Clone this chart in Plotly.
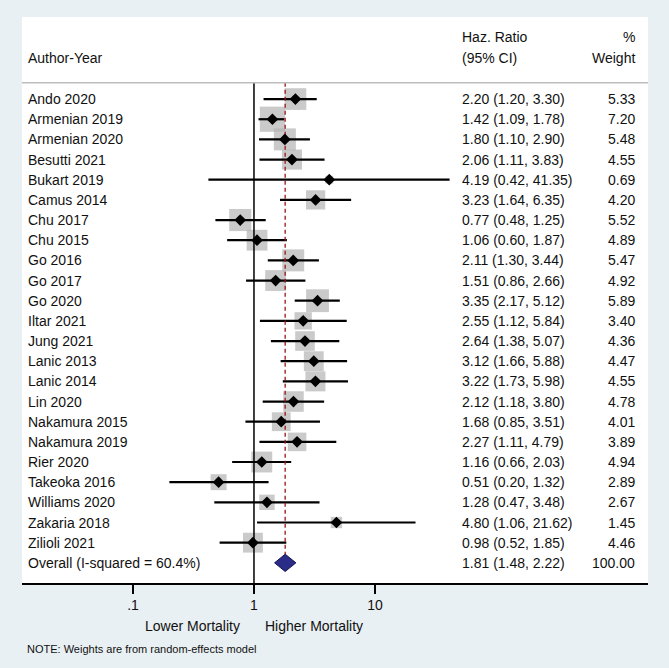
import plotly.graph_objects as go
import math

authors = ["Ando 2020", "Armenian 2019", "Armenian 2020", "Besutti 2021", "Bukart 2019",
           "Camus 2014", "Chu 2017", "Chu 2015", "Go 2016", "Go 2017", "Go 2020",
           "Iltar 2021", "Jung 2021", "Lanic 2013", "Lanic 2014", "Lin 2020",
           "Nakamura 2015", "Nakamura 2019", "Rier 2020", "Takeoka 2016",
           "Williams 2020", "Zakaria 2018", "Zilioli 2021"]
hr = [2.20, 1.42, 1.80, 2.06, 4.19, 3.23, 0.77, 1.06, 2.11, 1.51, 3.35, 2.55, 2.64,
      3.12, 3.22, 2.12, 1.68, 2.27, 1.16, 0.51, 1.28, 4.80, 0.98]
lo = [1.20, 1.09, 1.10, 1.11, 0.42, 1.64, 0.48, 0.60, 1.30, 0.86, 2.17, 1.12, 1.38,
      1.66, 1.73, 1.18, 0.85, 1.11, 0.66, 0.20, 0.47, 1.06, 0.52]
hi = [3.30, 1.78, 2.90, 3.83, 41.35, 6.35, 1.25, 1.87, 3.44, 2.66, 5.12, 5.84, 5.07,
      5.88, 5.98, 3.80, 3.51, 4.79, 2.03, 1.32, 3.48, 21.62, 1.85]
weight = [5.33, 7.20, 5.48, 4.55, 0.69, 4.20, 5.52, 4.89, 5.47, 4.92, 5.89, 3.40, 4.36,
          4.47, 4.55, 4.78, 4.01, 3.89, 4.94, 2.89, 2.67, 1.45, 4.46]

overall_label = "Overall (I-squared = 60.4%)"
overall_hr, overall_lo, overall_hi, overall_w = 1.81, 1.48, 2.22, 100.00

tick_vals = [0.1, 1, 10]
tick_text = [".1", "1", "10"]

FONT = "Liberation Sans, Arial, Helvetica, sans-serif"
TXT = "#111111"
n = len(authors)
rows = list(range(n))
orow = n  # overall row index

fig = go.Figure()

# weight boxes
fig.add_trace(go.Scatter(
    x=hr, y=rows, mode="markers",
    marker=dict(symbol="square", size=[9.4 * math.sqrt(w) for w in weight],
                color="#B3B3B3", line=dict(width=0)),
    hoverinfo="skip", showlegend=False))

# CI lines
cx, cy = [], []
for i in rows:
    cx += [lo[i], hi[i], None]
    cy += [i, i, None]
fig.add_trace(go.Scatter(x=cx, y=cy, mode="lines", line=dict(color="black", width=2.2),
                         hoverinfo="skip", showlegend=False))

# null line
fig.add_trace(go.Scatter(x=[1, 1], y=[-0.81, 24.1], mode="lines",
                         line=dict(color="black", width=1.5), hoverinfo="skip", showlegend=False))
# overall dashed line
fig.add_trace(go.Scatter(x=[overall_hr, overall_hr], y=[-0.81, orow - 0.42], mode="lines",
                         line=dict(color="#9A1515", width=1.3, dash="4px,3px"),
                         hoverinfo="skip", showlegend=False))

# point estimates
fig.add_trace(go.Scatter(x=hr, y=rows, mode="markers",
                         marker=dict(symbol="diamond", size=9, color="black"),
                         hoverinfo="skip", showlegend=False))

# overall diamond
fig.add_trace(go.Scatter(
    x=[overall_lo, overall_hr, overall_hi, overall_hr, overall_lo],
    y=[orow, orow - 0.43, orow, orow + 0.43, orow],
    mode="lines", fill="toself", fillcolor="#2B2B88",
    line=dict(color="#141450", width=1), hoverinfo="skip", showlegend=False))

ann = []
def add(text, x, y, xanchor, size=14, yref="y"):
    ann.append(dict(text=text, x=x, y=y, xref="paper", yref=yref, xanchor=xanchor,
                    yanchor="middle", showarrow=False,
                    font=dict(family=FONT, size=size, color=TXT)))

# headers
add("Author-Year", 0.006, -2.06, "left")
add("Haz. Ratio", 0.700, -3.07, "left")
add("(95% CI)", 0.700, -2.06, "left")
add("%", 0.983, -3.07, "right")
add("Weight", 0.983, -2.06, "right")

for i in rows:
    add(authors[i], 0.006, i, "left")
    add(f"{hr[i]:.2f} ({lo[i]:.2f}, {hi[i]:.2f})", 0.700, i, "left")
    add(f"{weight[i]:.2f}", 0.983, i, "right")
add(overall_label, 0.006, orow, "left")
add(f"{overall_hr:.2f} ({overall_lo:.2f}, {overall_hi:.2f})", 0.700, orow, "left")
add(f"{overall_w:.2f}", 0.983, orow, "right")

add("Lower Mortality", 0.2724, -0.076, "center", yref="paper")
add("Higher Mortality", 0.4659, -0.076, "center", yref="paper")
add("NOTE: Weights are from random-effects model", 0.004, -0.1166, "left", size=11, yref="paper")

fig.update_layout(
    width=669, height=668,
    margin=dict(l=22, r=21, t=17, b=85),
    paper_bgcolor="#E9F0F3", plot_bgcolor="white",
    annotations=ann,
    shapes=[dict(type="line", xref="paper", yref="y", x0=0, x1=1, y0=-0.81, y1=-0.81,
                 line=dict(color="#BDBDBD", width=1.5))],
    xaxis=dict(type="log", range=[-1.917, 3.256], tickvals=tick_vals, ticktext=tick_text,
               showgrid=False, zeroline=False, showline=True, linecolor="black", linewidth=1.5,
               ticks="outside", ticklen=9, tickwidth=1.5, tickcolor="black",
               tickfont=dict(family=FONT, size=14, color=TXT), fixedrange=True),
    yaxis=dict(range=[24.0, -4.07], showgrid=False, zeroline=False, showticklabels=False,
               showline=False, fixedrange=True),
)

fig.write_html("out.html", config={"displayModeBar": False, "staticPlot": True},
               post_script="document.body.style.margin='0';document.body.style.padding='0';document.body.style.overflow='hidden';")
